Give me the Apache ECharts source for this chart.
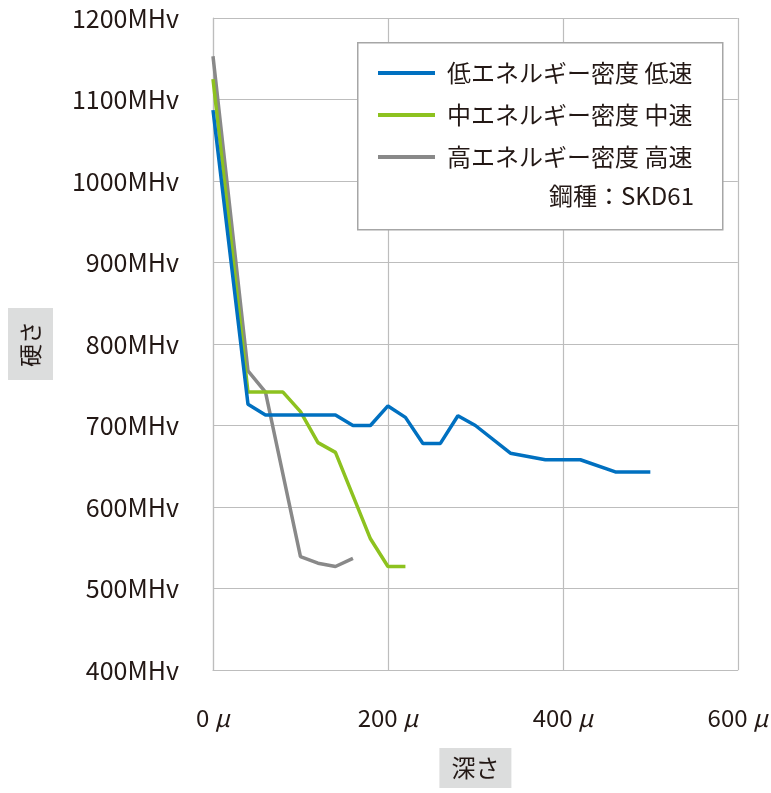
<!DOCTYPE html>
<html><head><meta charset="utf-8">
<script src="https://cdn.jsdelivr.net/npm/echarts@6/dist/echarts.min.js"></script>
<style>html,body{margin:0;padding:0;background:#fff}#c{width:771px;height:793px}</style>
</head><body><div id="c"></div>
<script>
const seriesNames = ['低エネルギー密度 低速', '中エネルギー密度 中速', '高エネルギー密度 高速'];
const depthLow = [0, 40, 60, 80, 100, 120, 140, 160, 180, 200, 220, 240, 260, 280, 300, 340, 380, 420, 460, 500];
const hardLow  = [1087, 726, 713, 713, 713, 713, 713, 700, 700, 724, 710, 678, 678, 712, 700, 666, 658, 658, 643, 643];
const depthMid = [0, 40, 80, 100, 120, 140, 160, 180, 200, 220];
const hardMid  = [1125, 741, 741, 717, 679, 667, 614, 561, 527, 527];
const depthHigh = [0, 40, 60, 100, 120, 140, 160];
const hardHigh  = [1153, 767, 741, 539, 531, 527, 537];
const xTicks = [0, 200, 400, 600];
const yTicks = [400, 500, 600, 700, 800, 900, 1000, 1100, 1200];
const colors = ['#0070c0', '#8dc21f', '#898989'];
const note = '鋼種：SKD61';
const xName = '深さ', yName = '硬さ';

const FONT = '"Noto Sans CJK JP", "Noto Sans", sans-serif';
const zip = (a, b) => a.map((v, i) => [v, b[i]]);
const chart = echarts.init(document.getElementById('c'));
chart.setOption({
  animation: false,
  textStyle: { fontFamily: FONT },
  grid: { left: 212, right: 31, top: 18, bottom: 117, containLabel: false },
  xAxis: {
    type: 'value', min: xTicks[0], max: xTicks[xTicks.length - 1], interval: 200,
    axisLine: { show: true, lineStyle: { color: '#bdbdbd', width: 1.2 } },
    axisTick: { show: false },
    splitLine: { show: true, lineStyle: { color: '#bdbdbd', width: 1.2 } },
    axisLabel: { formatter: v => v + ' {i|μ}', fontSize: 24, color: '#231815', margin: 36, fontFamily: FONT,
      rich: { i: { fontSize: 24, fontStyle: 'italic', color: '#231815', fontFamily: FONT } } },
    name: xName, nameLocation: 'middle', nameGap: 78,
    nameTextStyle: { fontSize: 24, color: '#231815', backgroundColor: '#dcdddd', padding: [8, 12, 8, 12], fontFamily: FONT }
  },
  yAxis: {
    type: 'value', min: yTicks[0], max: yTicks[yTicks.length - 1], interval: 100,
    axisLine: { show: true, lineStyle: { color: '#bdbdbd', width: 1.2 } },
    axisTick: { show: false },
    splitLine: { show: true, lineStyle: { color: '#bdbdbd', width: 1.2 } },
    axisLabel: { formatter: v => v + 'MHv', fontSize: 25, color: '#231815', margin: 34, fontFamily: FONT },
    name: yName, nameLocation: 'middle', nameGap: 160, nameRotate: 90,
    nameTextStyle: { fontSize: 23, color: '#231815', backgroundColor: '#dcdddd', padding: [11, 13, 11, 13], fontFamily: FONT }
  },
  legend: {
    data: seriesNames, orient: 'vertical', left: 373, top: 56, z: 200,
    itemWidth: 57, itemHeight: 4, itemGap: 18, icon: 'rect',
    textStyle: { fontSize: 24, color: '#231815', padding: [0, 0, 0, 7], lineHeight: 24, fontFamily: FONT }
  },
  graphic: [
    { type: 'rect', left: 357, top: 42, shape: { width: 365, height: 187 }, z: 90,
      style: { fill: '#fff', stroke: '#a6a6a6', lineWidth: 1.5 } },
    { type: 'text', right: 771 - 694, top: 184, z: 100,
      style: { text: note, fontSize: 24, fill: '#231815', fontFamily: FONT } }
  ],
  series: [
    { name: seriesNames[2], type: 'line', data: zip(depthHigh, hardHigh), showSymbol: false, color: colors[2], lineStyle: { width: 3.5, color: colors[2] } },
    { name: seriesNames[1], type: 'line', data: zip(depthMid, hardMid), showSymbol: false, color: colors[1], lineStyle: { width: 3.5, color: colors[1] } },
    { name: seriesNames[0], type: 'line', data: zip(depthLow, hardLow), showSymbol: false, color: colors[0], lineStyle: { width: 3.5, color: colors[0] } }
  ]
});
</script></body></html>
